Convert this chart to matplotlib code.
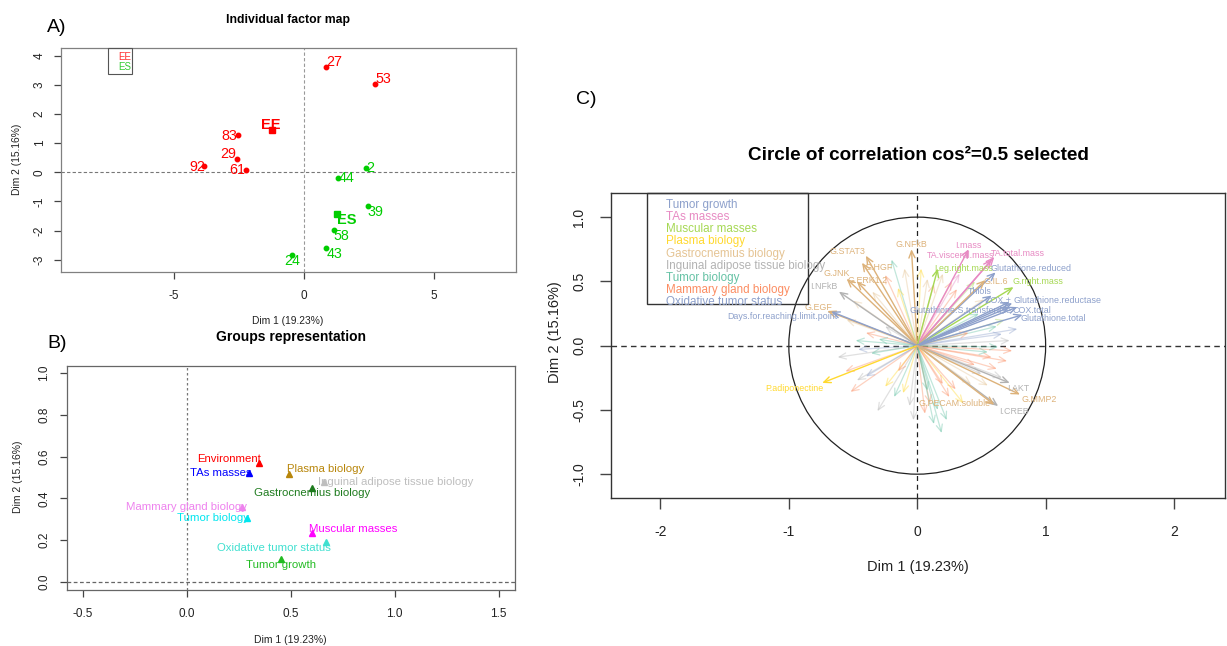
import matplotlib
matplotlib.use('Agg')
import matplotlib.pyplot as plt
from matplotlib.patches import Rectangle, Circle

W, H = 1227, 646
plt.rcParams['font.family'] = ['Liberation Sans', 'DejaVu Sans']

# ---------------- DATA ----------------
# Panel A: individuals
ind_labels = ['27', '53', '83', '29', '92', '61', '2', '44', '39', '58', '43', '24']
ind_dim1 = [0.86, 2.73, -2.55, -2.60, -3.85, -2.22, 2.37, 1.32, 2.45, 1.14, 0.85, -0.46]
ind_dim2 = [3.61, 3.03, 1.28, 0.46, 0.22, 0.09, 0.14, -0.18, -1.15, -1.99, -2.61, -2.84]
ind_group = ['EE'] * 6 + ['ES'] * 6
grp_labels = ['EE', 'ES']
grp_dim1 = [-1.24, 1.28]
grp_dim2 = [1.45, -1.42]

# Panel B: groups representation
b_names = ['Environment', 'TAs masses', 'Plasma biology', 'Inguinal adipose tissue biology',
           'Gastrocnemius biology', 'Mammary gland biology', 'Tumor biology',
           'Muscular masses', 'Oxidative tumor status', 'Tumor growth']
b_dim1 = [0.346, 0.301, 0.490, 0.662, 0.602, 0.267, 0.290, 0.603, 0.670, 0.452]
b_dim2 = [0.568, 0.522, 0.518, 0.479, 0.447, 0.359, 0.303, 0.232, 0.189, 0.109]

# Panel C: correlation circle
c_groups = ['Tumor growth', 'TAs masses', 'Muscular masses', 'Plasma biology',
            'Gastrocnemius biology', 'Inguinal adipose tissue biology', 'Tumor biology',
            'Mammary gland biology', 'Oxidative tumor status']
c_var_names = ['G.NFkB', 'G.STAT3', 'G.HGF', 'G.JNK', 'G.ERK1.2', 'I.NFkB', 'G.EGF',
               'Days.for.reaching.limit.point', 'I.mass', 'TA.visceral.mass', 'TA.total.mass',
               'Leg.right.mass', 'Glutathione.reduced', 'G.IL.6', 'G.right.mass', 'Thiols',
               'COX.+', 'Glutathione.reductase', 'Glutathione.S.transferase', 'COX.total',
               'Glutathione.total', 'P.adiponectine', 'I.AKT', 'G.MMP2', 'I.CREB',
               'G.PECAM.soluble']
c_var_group = ['GA', 'GA', 'GA', 'GA', 'GA', 'IN', 'GA', 'TG', 'TA', 'TA', 'TA', 'MU', 'OX',
               'GA', 'MU', 'OX', 'OX', 'OX', 'OX', 'OX', 'OX', 'PL', 'IN', 'GA', 'IN', 'GA']
c_var_dim1 = [-0.045, -0.40, -0.43, -0.55, -0.47, -0.61, -0.70, -0.67, 0.40, 0.58, 0.60,
              0.16, 0.61, 0.53, 0.75, 0.58, 0.72, 0.74, 0.72, 0.78, 0.82, -0.74, 0.72,
              0.80, 0.63, 0.60]
c_var_dim2 = [0.75, 0.70, 0.645, 0.52, 0.50, 0.42, 0.27, 0.265, 0.75, 0.67, 0.69, 0.60,
              0.57, 0.51, 0.455, 0.39, 0.34, 0.33, 0.30, 0.30, 0.24, -0.29, -0.29, -0.38,
              -0.47, -0.46]

# weakly represented variables (cos2 < 0.5), drawn faint
faint_dim1 = [-0.20, -0.10, -0.25, -0.15, -0.35, -0.50, -0.55, -0.40, -0.30, -0.48, -0.25,
              0.03, 0.08, 0.13, 0.20, 0.27, 0.33, 0.31, 0.45, 0.52, 0.48, 0.62, 0.66, 0.72,
              0.68, 0.40, 0.74, 0.58, 0.78, 0.63, 0.55, -0.56, -0.62, -0.46, -0.36, -0.52,
              -0.47, -0.40, -0.31, -0.18, -0.11, -0.25, -0.03, -0.06, -0.15, 0.06, 0.10,
              0.19, 0.13, 0.23, 0.16, 0.25, 0.30, 0.36, 0.42, 0.50, 0.55, 0.45, 0.62, 0.66,
              0.20, 0.08, 0.70]
faint_dim2 = [0.67, 0.60, 0.55, 0.45, 0.42, 0.35, 0.20, 0.10, 0.05, 0.04, 0.15, 0.60, 0.52,
              0.48, 0.56, 0.50, 0.56, 0.44, 0.50, 0.36, 0.25, 0.15, 0.09, 0.04, 0.20, 0.10,
              -0.04, -0.09, 0.13, -0.01, -0.05, -0.20, -0.09, -0.03, -0.06, -0.36, -0.27,
              -0.24, -0.51, -0.40, -0.37, -0.32, -0.58, -0.47, -0.20, -0.53, -0.45, -0.68,
              -0.61, -0.58, -0.50, -0.40, -0.34, -0.45, -0.30, -0.22, -0.31, -0.15, -0.18,
              -0.25, -0.30, -0.35, -0.12]
faint_group = ['TB', 'GA', 'MA', 'PL', 'GA', 'GA', 'GA', 'MA', 'TB', 'TB', 'IN', 'PL', 'GA',
               'MA', 'GA', 'MA', 'TA', 'MA', 'MU', 'GA', 'TB', 'TB', 'OX', 'IN', 'MU', 'MA',
               'MA', 'MA', 'OX', 'TB', 'TB', 'MA', 'IN', 'OX', 'TB', 'MA', 'IN', 'OX', 'IN',
               'TB', 'PL', 'PL', 'IN', 'IN', 'MA', 'MA', 'MA', 'TB', 'TB', 'TB', 'TB', 'MA',
               'MA', 'PL', 'GA', 'IN', 'GA', 'MA', 'MA', 'IN', 'MA', 'TB', 'MA']

# ---------------- STYLE / LAYOUT ----------------
grp_col_A = {'EE': '#FF0000', 'ES': '#00CD00'}
b_colors = ['#FF0000', '#0000FF', '#B8860B', '#BEBEBE', '#1E7B1E', '#EE82EE', '#00E5EE',
            '#FF00FF', '#40E0D0', '#22BB22']
c_pal = {'TG': '#8DA0CB', 'TA': '#E78AC3', 'MU': '#A6D854', 'PL': '#FFD92F', 'GA': '#E5C494',
         'IN': '#B3B3B3', 'TB': '#66C2A5', 'MA': '#FC8D62', 'OX': '#8DA0CB'}
c_arrow_pal = dict(c_pal, GA='#DDB27A')
c_group_keys = ['TG', 'TA', 'MU', 'PL', 'GA', 'IN', 'TB', 'MA', 'OX']

ind_offsets = [(8, 5), (8, 5), (-8, -1), (-8, 5), (-7, -1), (-9, 0), (5, 0), (8, -1),
               (8, -6), (8, -6), (8, -6), (0, -6)]
grp_offsets = [(-1, 5), (9, -6)]
b_offsets = [(-30, 4), (-29, 0), (37, 5), (71, 0), (0, -5), (-56, 0), (-34, 0), (41, 4),
             (-52, -6), (0, -6)]
c_label_pos = [(-0.045, 0.79), (-0.54, 0.735), (-0.30, 0.61), (-0.63, 0.56), (-0.39, 0.505),
               (-0.73, 0.46), (-0.77, 0.30), (-1.05, 0.23), (0.40, 0.78), (0.34, 0.70),
               (0.78, 0.715), (0.36, 0.597), (0.885, 0.60), (0.61, 0.50), (0.94, 0.50),
               (0.49, 0.42), (0.63, 0.35), (1.09, 0.35), (0.34, 0.27), (0.89, 0.27),
               (1.06, 0.21), (-0.96, -0.33), (0.79, -0.33), (0.95, -0.42), (0.75, -0.515),
               (0.29, -0.45)]

fig = plt.figure(figsize=(W / 100, H / 100), dpi=100)


def fx(x):
    return x / W


def fy(y):
    return 1 - y / H


def ftext(x, y, s, **kw):
    kw.setdefault('ha', 'center')
    kw.setdefault('va', 'center')
    fig.text(fx(x), fy(y), s, **kw)


def add_axes_px(l, t, r, b):
    return fig.add_axes([fx(l), fy(b), (r - l) / W, (b - t) / H])


def style_axes(ax, frame_col, lw, tick_size, xpad, ypad, ticklen):
    for sp in ax.spines.values():
        sp.set_color(frame_col)
        sp.set_linewidth(lw)
    ax.tick_params(direction='out', length=ticklen, width=lw, colors='#444444',
                   labelsize=tick_size, labelcolor='#222222')
    ax.tick_params(axis='x', pad=xpad)
    ax.tick_params(axis='y', pad=ypad)


# ---------------- PANEL A ----------------
axA = add_axes_px(61, 48, 516, 272)
axA.set_xlim(-9.35, 8.15)
axA.set_ylim(-3.42, 4.26)
axA.axhline(0, color='#777777', lw=0.8, ls=(0, (3, 2)))
axA.axvline(0, color='#999999', lw=0.8, ls=(0, (3, 2)))
for lab, x, y, g, off in zip(ind_labels, ind_dim1, ind_dim2, ind_group, ind_offsets):
    c = grp_col_A[g]
    axA.plot(x, y, 'o', color=c, ms=3.2, mec=c)
    axA.annotate(lab, (x, y), xytext=off, textcoords='offset pixels', ha='center',
                 va='center', color=c, fontsize=10.3)
for lab, x, y, off in zip(grp_labels, grp_dim1, grp_dim2, grp_offsets):
    c = grp_col_A[lab]
    axA.plot(x, y, 's', color=c, ms=5)
    axA.annotate(lab, (x, y), xytext=off, textcoords='offset pixels', ha='center',
                 va='center', color=c, fontsize=10.5, fontweight='bold')
axA.set_xticks([-5, 0, 5])
axA.set_xticklabels(['-5', '0', '5'])
axA.set_yticks([-3, -2, -1, 0, 1, 2, 3, 4])
axA.set_yticklabels(['-3', '-2', '-1', '0', '1', '2', '3', '4'], rotation=90, va='center')
style_axes(axA, '#808080', 0.9, 8.5, 8, 6, 5)
fig.add_artist(Rectangle((107.7, H - 74), 24, 26, transform=None, fill=False,
                         ec='#555555', lw=0.8))
ftext(125, 57.5, 'EE', color='#FF3030', fontsize=7)
ftext(125, 66.5, 'ES', color='#33CC33', fontsize=7)
ftext(288, 20, 'Individual factor map', fontsize=8.8, fontweight='bold')
ftext(57, 28, 'A)', fontsize=14)
ftext(288, 321, 'Dim 1 (19.23%)', fontsize=7.4, color='#222222')
ftext(17, 159, 'Dim 2 (15.16%)', fontsize=7.4, rotation=90, color='#222222')

# ---------------- PANEL B ----------------
axB = add_axes_px(66.7, 365.7, 515, 590)
axB.set_xlim(-0.577, 1.578)
axB.set_ylim(-0.04, 1.036)
axB.axhline(0, color='#666666', lw=0.9, ls=(0, (3, 2)))
axB.axvline(0, color='#777777', lw=0.9, ls=(0, (2, 2)))
for name, x, y, c, off in zip(b_names, b_dim1, b_dim2, b_colors, b_offsets):
    axB.plot(x, y, '^', color=c, ms=5)
    axB.annotate(name, (x, y), xytext=off, textcoords='offset pixels', ha='center',
                 va='center', color=c, fontsize=8.2)
axB.set_xticks([-0.5, 0.0, 0.5, 1.0, 1.5])
axB.set_xticklabels(['-0.5', '0.0', '0.5', '1.0', '1.5'])
axB.set_yticks([0.0, 0.2, 0.4, 0.6, 0.8, 1.0])
axB.set_yticklabels(['0.0', '0.2', '0.4', '0.6', '0.8', '1.0'], rotation=90, va='center')
style_axes(axB, '#666666', 0.9, 8.5, 8, 7, 5)
ftext(290.7, 337, 'Groups representation', fontsize=10, fontweight='bold')
ftext(57, 344, 'B)', fontsize=14)
ftext(290.7, 640, 'Dim 1 (19.23%)', fontsize=7.5, color='#222222')
ftext(18, 477, 'Dim 2 (15.16%)', fontsize=7.5, rotation=90, color='#222222')

# ---------------- PANEL C ----------------
axC = add_axes_px(611, 192.7, 1224.5, 497.7)
axC.set_xlim(-2.385, 2.393)
axC.set_ylim(-1.183, 1.19)


def draw_arrow(ax, x, y, color, lw, alpha):
    ax.annotate('', xy=(x, y), xytext=(0, 0),
                arrowprops=dict(arrowstyle='->,head_length=0.5,head_width=0.22',
                                color=color, lw=lw, alpha=alpha, shrinkA=0, shrinkB=0,
                                mutation_scale=10))


for x, y, g in zip(faint_dim1, faint_dim2, faint_group):
    draw_arrow(axC, x, y, c_pal[g], 0.9, 0.4)
for x, y, g in zip(c_var_dim1, c_var_dim2, c_var_group):
    draw_arrow(axC, x, y, c_arrow_pal[g], 1.0, 1.0)
for name, g, (lx, ly) in zip(c_var_names, c_var_group, c_label_pos):
    axC.text(lx, ly, name, color=c_arrow_pal[g], fontsize=6.4, ha='center', va='center')

axC.add_patch(Circle((0, 0), 1.0, fill=False, ec='#222222', lw=0.9))
axC.axhline(0, color='#333333', lw=1.0, ls=(0, (4, 3)))
axC.axvline(0, color='#222222', lw=0.9, ls=(0, (4, 3)))
axC.set_xticks([-2, -1, 0, 1, 2])
axC.set_xticklabels(['-2', '-1', '0', '1', '2'])
axC.set_yticks([-1.0, -0.5, 0.0, 0.5, 1.0])
axC.set_yticklabels(['-1.0', '-0.5', '0.0', '0.5', '1.0'], rotation=90, va='center')
style_axes(axC, '#333333', 1.0, 10, 12, 10, 8)

# legend of panel C
fig.add_artist(Rectangle((646.7, H - 304.3), 161, 304.3 - 192.7, transform=None,
                         fill=False, ec='#333333', lw=1.0))
for i, (gname, key) in enumerate(zip(c_groups, c_group_keys)):
    ftext(666, 205.3 + i * 12.05, gname, ha='left', color=c_pal[key], fontsize=8.4)

ftext(918, 155, 'Circle of correlation cos\u00b2=0.5 selected', fontsize=13.6,
      fontweight='bold', family=['Liberation Sans Narrow', 'Liberation Sans', 'DejaVu Sans'])
ftext(586, 99, 'C)', fontsize=14)
ftext(918, 567, 'Dim 1 (19.23%)', fontsize=10.5, color='#222222')
ftext(555, 332, 'Dim 2 (15.16%)', fontsize=10.5, rotation=90, color='#222222')

fig.savefig('out.png', dpi=100)
